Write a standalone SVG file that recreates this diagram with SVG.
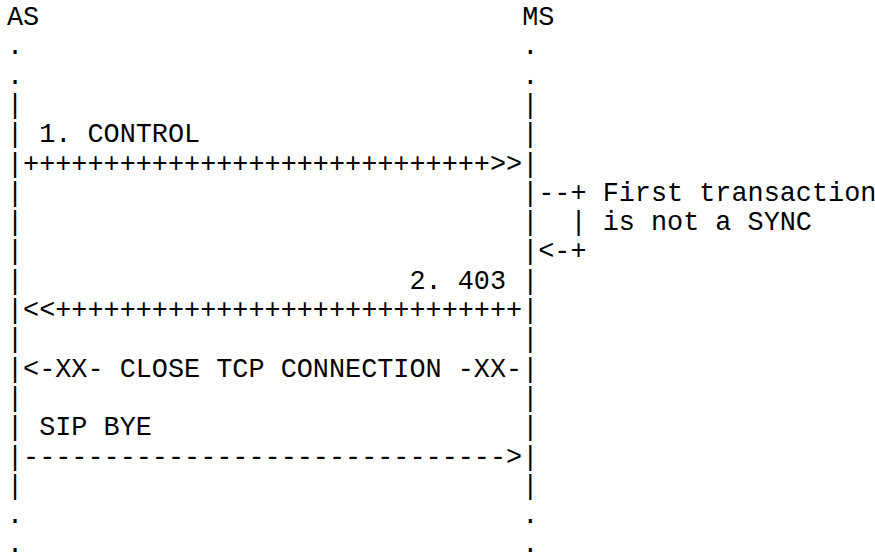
<svg xmlns="http://www.w3.org/2000/svg" width="875" height="557" viewBox="0 0 875 557">
<style>
  text { font-family: "Liberation Mono", "Courier New", monospace; font-size: 26.83px; fill: #000; white-space: pre; }
</style>
<rect width="875" height="557" fill="#fff"/>
<g id="node-AS">
  <text x="6.95" y="25">AS</text>
  <text>
    <tspan x="6.95" y="54.3">.</tspan>
    <tspan x="6.95" y="83.6">.</tspan>
    <tspan x="6.95" y="112.9">|</tspan>
    <tspan x="6.95" y="142.2">|</tspan>
    <tspan x="6.95" y="171.5">|</tspan>
    <tspan x="6.95" y="200.8">|</tspan>
    <tspan x="6.95" y="230.1">|</tspan>
    <tspan x="6.95" y="259.4">|</tspan>
    <tspan x="6.95" y="288.7">|</tspan>
    <tspan x="6.95" y="318">|</tspan>
    <tspan x="6.95" y="347.3">|</tspan>
    <tspan x="6.95" y="376.6">|</tspan>
    <tspan x="6.95" y="405.9">|</tspan>
    <tspan x="6.95" y="435.2">|</tspan>
    <tspan x="6.95" y="464.5">|</tspan>
    <tspan x="6.95" y="493.8">|</tspan>
    <tspan x="6.95" y="523.1">.</tspan>
    <tspan x="6.95" y="552.4">.</tspan>
  </text>
</g>
<g id="node-MS">
  <text x="522.15" y="25">MS</text>
  <text>
    <tspan x="522.15" y="54.3">.</tspan>
    <tspan x="522.15" y="83.6">.</tspan>
    <tspan x="522.15" y="112.9">|</tspan>
    <tspan x="522.15" y="142.2">|</tspan>
    <tspan x="522.15" y="171.5">|</tspan>
    <tspan x="522.15" y="200.8">|</tspan>
    <tspan x="522.15" y="230.1">|</tspan>
    <tspan x="522.15" y="259.4">|</tspan>
    <tspan x="522.15" y="288.7">|</tspan>
    <tspan x="522.15" y="318">|</tspan>
    <tspan x="522.15" y="347.3">|</tspan>
    <tspan x="522.15" y="376.6">|</tspan>
    <tspan x="522.15" y="405.9">|</tspan>
    <tspan x="522.15" y="435.2">|</tspan>
    <tspan x="522.15" y="464.5">|</tspan>
    <tspan x="522.15" y="493.8">|</tspan>
    <tspan x="522.15" y="523.1">.</tspan>
    <tspan x="522.15" y="552.4">.</tspan>
  </text>
</g>
<g id="connectors">
  <g id="msg-1-control">
    <text x="39.15" y="142.2">1. CONTROL</text>
    <text x="23.05" y="171.5">+++++++++++++++++++++++++++++&gt;&gt;</text>
  </g>
  <g id="msg-self-check">
    <text x="538.25" y="200.8">--+ First transaction</text>
    <text x="570.45" y="230.1">| is not a SYNC</text>
    <text x="538.25" y="259.4">&lt;-+</text>
  </g>
  <g id="msg-2-403">
    <text x="409.45" y="288.7">2. 403</text>
    <text x="23.05" y="318">&lt;&lt;+++++++++++++++++++++++++++++</text>
  </g>
  <g id="msg-close-tcp">
    <text x="23.05" y="376.6">&lt;-XX- CLOSE TCP CONNECTION -XX-</text>
  </g>
  <g id="msg-sip-bye">
    <text x="39.15" y="435.2">SIP BYE</text>
    <text x="23.05" y="464.5">------------------------------&gt;</text>
  </g>
</g>
</svg>
